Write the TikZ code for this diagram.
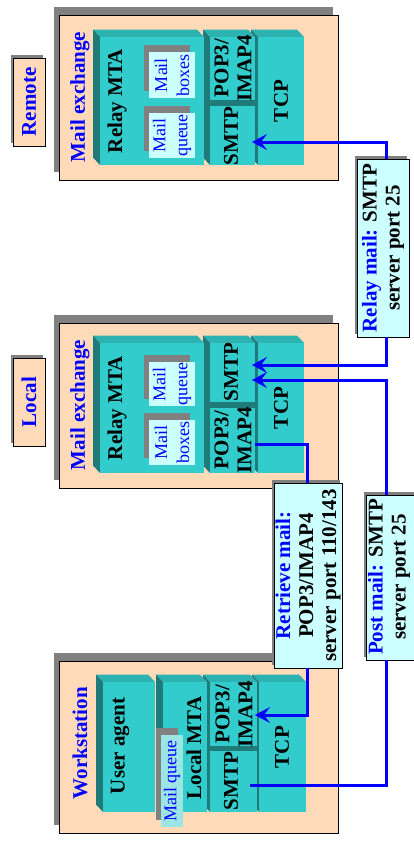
\documentclass[tikz,border=0pt]{standalone}
\usepackage{fontspec}
\setmainfont{Liberation Serif}
\usetikzlibrary{shadows,arrows.meta}
\definecolor{peach}{HTML}{FFDAB9}
\definecolor{frontc}{HTML}{33CCCC}
\definecolor{topc}{HTML}{2DB2B2}
\definecolor{sidec}{HTML}{1F7A7A}
\definecolor{lcyan}{HTML}{CCFFFF}
\definecolor{mqcyan}{HTML}{9BE5E5}
\definecolor{shadowgray}{HTML}{808080}
\definecolor{myblue}{HTML}{0000FF}
\newcommand\bigf{\fontsize{21}{23}\selectfont\bfseries}
\newcommand\smallf{\fontsize{18}{22}\selectfont}
% 3D block: front face (x1,y1)-(x2,y2), depth up-left
\newcommand\blk[4]{%
  \fill[topc] (#1,#2) -- (#3,#2) -- ({#3-7},{#2-7.5}) -- ({#1-7},{#2-7.5}) -- cycle;
  \fill[sidec] (#1,#2) -- (#1,#4) -- ({#1-7},{#4-7.5}) -- ({#1-7},{#2-7.5}) -- cycle;
  \fill[frontc] (#1,#2) rectangle (#3,#4);}
\begin{document}
\begin{tikzpicture}[x=1pt,y=-1pt,
  panel/.style={draw=black,line width=0.8pt,fill=peach,inner sep=0pt,outer sep=0pt,
    general shadow={fill=shadowgray,shadow xshift=-5pt,shadow yshift=8pt}},
  lblbox/.style={draw=black,line width=0.8pt,fill=lcyan,inner sep=0pt,outer sep=0pt,
    general shadow={fill=shadowgray,shadow xshift=-2.5pt,shadow yshift=3.5pt}},
  tagbox/.style={draw=black,line width=0.8pt,fill=peach,inner sep=0pt,outer sep=0pt,
    general shadow={fill=shadowgray,shadow xshift=-2.5pt,shadow yshift=3.5pt}},
  inbox/.style={fill=lcyan,inner sep=0pt,outer sep=0pt,
    general shadow={fill=shadowgray,shadow xshift=-5pt,shadow yshift=7.5pt}},
  ttl/.style={rotate=90,font=\bigf,text=myblue,inner sep=0pt},
  blktxt/.style={rotate=90,font=\bigf,text=black,align=center,inner sep=0pt},
  intxt/.style={rotate=90,font=\smallf,text=myblue,align=center,inner sep=0pt},
  conn/.style={draw=myblue,line width=3pt},
  arr/.style={conn,-{Stealth[length=15pt,width=16pt,inset=6pt]}}]
\useasboundingbox (0,0) rectangle (413,849);

% ---------------- panels ----------------
\node[panel,minimum width=279pt,minimum height=165pt] (rpanel) at (198.5,97.5) {};
\node[panel,minimum width=279pt,minimum height=165pt] (lpanel) at (198.5,405.5) {};
\node[panel,minimum width=279pt,minimum height=172pt] (wpanel) at (198.5,747) {};

% tags
\node[tagbox,minimum width=32pt,minimum height=88pt] (rtag) at (29,102) {};
\node[ttl] (rtagtxt) at (rtag) {Remote};
\node[tagbox,minimum width=32pt,minimum height=88pt] (ltag) at (29,402) {};
\node[ttl] (ltagtxt) at (ltag) {Local};

% titles
\node[ttl] (rtitle) at (80,97) {Mail exchange};
\node[ttl] (ltitle) at (80,405) {Mail exchange};
\node[ttl] (wtitle) at (80,743) {Workstation};

% ---------------- remote blocks ----------------
\blk{258}{37}{304}{165}
\blk{210}{37}{255}{165}
\fill[sidec] (210,100) rectangle (255,106);
\blk{100}{37}{204}{165}
\node[inbox,minimum width=46pt,minimum height=46pt] (rboxes) at (172,75) {};
\node[intxt] (rboxestxt) at (rboxes) {Mail\\boxes};
\node[inbox,minimum width=46pt,minimum height=45pt] (rqueue) at (172,135.5) {};
\node[intxt] (rqueuetxt) at (rqueue) {Mail\\queue};
\node[blktxt] (rmta) at (117,101) {Relay MTA};
\node[blktxt] (rpop) at (233,68) {POP3/\\IMAP4};
\node[blktxt] (rsmtp) at (231,136) {SMTP};
\node[blktxt] (rtcp) at (281,101) {TCP};

% ---------------- local blocks ----------------
\blk{258}{343}{304}{473}
\blk{210}{343}{255}{473}
\fill[sidec] (210,402) rectangle (255,408);
\blk{100}{343}{204}{473}
\node[inbox,minimum width=46pt,minimum height=44pt] (lqueue) at (172,384) {};
\node[intxt] (lqueuetxt) at (lqueue) {Mail\\queue};
\node[inbox,minimum width=46pt,minimum height=45pt] (lboxes) at (172,442.5) {};
\node[intxt] (lboxestxt) at (lboxes) {Mail\\boxes};
\node[blktxt] (lmta) at (117,408) {Relay MTA};
\node[blktxt] (lsmtp) at (231,372) {SMTP};
\node[blktxt] (lpop) at (233,440) {POP3/\\IMAP4};
\node[blktxt] (ltcp) at (281,408) {TCP};

% ---------------- workstation blocks ----------------
\blk{259}{682}{306}{812}
\blk{210}{682}{257}{812}
\fill[sidec] (210,746) rectangle (257,751);
\blk{163}{682}{207}{812}
\blk{103}{682}{155}{812}
\node[fill=mqcyan,inner sep=0pt,outer sep=0pt,minimum width=22pt,minimum height=92pt,
  general shadow={fill=shadowgray,shadow xshift=-5.5pt,shadow yshift=7pt}] (wqueue) at (172,781) {};
\node[intxt] (wqueuetxt) at (wqueue) {Mail queue};
\node[blktxt] (wua) at (120,746) {User agent};
\node[blktxt] (wmta) at (194,748) {Local MTA};
\node[blktxt] (wpop) at (234,714) {POP3/\\IMAP4};
\node[blktxt] (wsmtp) at (231,781) {SMTP};
\node[blktxt] (wtcp) at (282,747) {TCP};

% ---------------- label boxes ----------------
\node[lblbox,minimum width=52pt,minimum height=178pt] (relaybox) at (383,248) {};
\node[blktxt] (relaytxt) at (relaybox) {{\color{myblue}Relay mail:} SMTP\\server port 25};
\node[lblbox,minimum width=68pt,minimum height=185pt] (retrbox) at (308,575.5) {};
\node[blktxt] (retrtxt) at (retrbox) {{\color{myblue}Retrieve mail:}\\POP3/IMAP4\\server port 110/143};
\node[lblbox,minimum width=52pt,minimum height=165pt] (postbox) at (392,577.5) {};
\node[blktxt] (posttxt) at (389,577) {{\color{myblue}Post mail:} SMTP\\server port 25};

% ---------------- connectors ----------------
\coordinate (rin) at (252,142);
\coordinate (lin1) at (252,365);
\coordinate (lin2) at (252,380);
\coordinate (lpopout) at (255,444);
\coordinate (win) at (255,715);
\coordinate (wsmtpout) at (250,785);
\draw[arr] ([xshift=3pt]relaybox.north) |- (rin);
\draw[arr] ([xshift=3pt]relaybox.south) |- (lin1);
\draw[arr] ([xshift=-6pt]postbox.north) |- (lin2);
\draw[conn] (lpopout) -| ([xshift=-1pt]retrbox.north);
\draw[arr] ([xshift=-1pt]retrbox.south) |- (win);
\draw[conn] (wsmtpout) -| ([xshift=-6pt]postbox.south);
\end{tikzpicture}
\end{document}
